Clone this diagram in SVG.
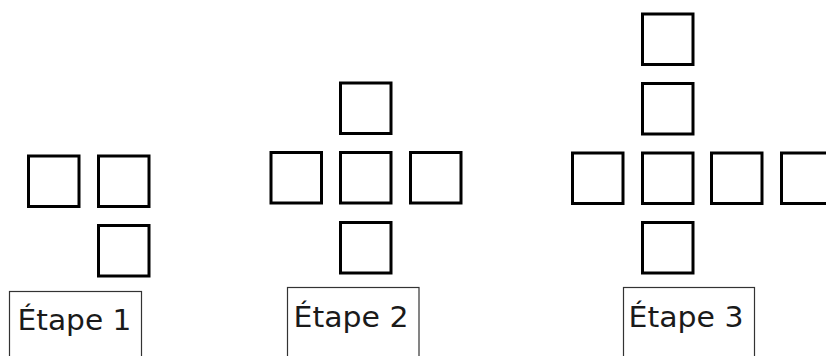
<svg xmlns="http://www.w3.org/2000/svg" width="826" height="356" viewBox="0 0 826 356">
<style>
.sq{fill:none;stroke:#000;stroke-width:3}
.lb{fill:#fff;stroke:#333;stroke-width:1.2}
.tx{font-family:"DejaVu Sans","Verdana",sans-serif;font-size:27.5px;fill:#1a1a1a}
</style>
<rect width="826" height="356" fill="#fff"/>
<g id="etape1">
<rect class="sq" x="28.5" y="156" width="50.5" height="50.5"/>
<rect class="sq" x="98.5" y="156" width="50.5" height="50.5"/>
<rect class="sq" x="98.5" y="225.5" width="50.5" height="50.5"/>
</g>
<g id="etape2">
<rect class="sq" x="340.5" y="83" width="50.5" height="50.5"/>
<rect class="sq" x="271" y="152.5" width="50.5" height="50.5"/>
<rect class="sq" x="340.5" y="152.5" width="50.5" height="50.5"/>
<rect class="sq" x="410.5" y="152.5" width="50.5" height="50.5"/>
<rect class="sq" x="340.5" y="222.5" width="50.5" height="50.5"/>
</g>
<g id="etape3">
<rect class="sq" x="642.5" y="14" width="50.5" height="50.5"/>
<rect class="sq" x="642.5" y="83.5" width="50.5" height="50.5"/>
<rect class="sq" x="572.5" y="153" width="50.5" height="50.5"/>
<rect class="sq" x="642.5" y="153" width="50.5" height="50.5"/>
<rect class="sq" x="711.5" y="153" width="50.5" height="50.5"/>
<rect class="sq" x="781.5" y="153" width="50.5" height="50.5"/>
<rect class="sq" x="642.5" y="222.5" width="50.5" height="50.5"/>
</g>
<g id="label1">
<rect class="lb" x="9.5" y="291.5" width="132" height="80"/>
<text class="tx" x="17.5" y="330" textLength="114" lengthAdjust="spacingAndGlyphs">Étape 1</text>
</g>
<g id="label2">
<rect class="lb" x="287.5" y="287.5" width="131.5" height="80"/>
<text class="tx" x="293.5" y="327" textLength="115" lengthAdjust="spacingAndGlyphs">Étape 2</text>
</g>
<g id="label3">
<rect class="lb" x="623.5" y="287.5" width="131" height="80"/>
<text class="tx" x="628.5" y="327" textLength="115" lengthAdjust="spacingAndGlyphs">Étape 3</text>
</g>
</svg>
